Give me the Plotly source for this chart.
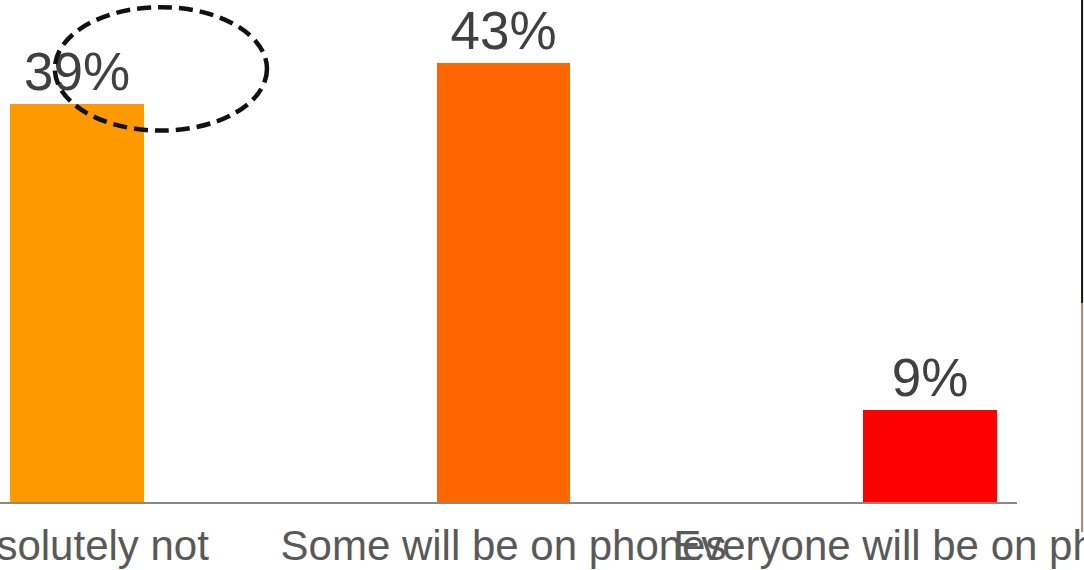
import plotly.graph_objects as go

# Survey answers and their shares (%)
categories = ["Absolutely not", "Some will be on phones", "Everyone will be on phones"]
shares = [39, 43, 9]
bar_colors = ["#FF9900", "#FF6600", "#FF0000"]

fig = go.Figure(
    go.Bar(
        x=list(range(len(categories))),
        y=shares,
        width=0.314,
        marker=dict(color=bar_colors, line=dict(width=0)),
        text=[f"{v}%" for v in shares],
        textposition="outside",
        cliponaxis=False,
        textfont=dict(family="Liberation Sans, Arial, sans-serif", size=53, color="#404040"),
    )
)

# Dashed ellipse highlighting the first answer's label
fig.add_shape(
    type="circle",
    xref="x", yref="y",
    x0=-0.052, x1=0.4455, y0=36.4, y1=48.5,
    line=dict(color="#111111", width=4.5, dash="14px,7px"),
)

# Thin dark edge on the far right
fig.add_shape(type="line", xref="paper", yref="paper",
              x0=1.064, x1=1.064, y0=1.0, y1=0.396,
              line=dict(color="#111111", width=2))
fig.add_shape(type="line", xref="paper", yref="paper",
              x0=1.064, x1=1.064, y0=0.396, y1=-0.06,
              line=dict(color="#C08060", width=2))

fig.update_layout(
    width=1084, height=570,
    margin=dict(l=0, r=67, t=0, b=68, autoexpand=False),
    paper_bgcolor="white", plot_bgcolor="white",
    showlegend=False,
    bargap=0,
    xaxis=dict(
        range=[-0.1805, 2.204],
        tickmode="array",
        tickvals=list(range(len(categories))),
        ticktext=categories,
        tickangle=0,
        automargin=False,
        ticklabeloverflow="allow",
        ticklabelstandoff=6,
        showline=True, linecolor="#898989", linewidth=2,
        showgrid=False, zeroline=False, ticks="",
        tickfont=dict(family="Liberation Sans, Arial, sans-serif", size=42, color="#595959"),
    ),
    yaxis=dict(range=[0, 49.2], visible=False, showgrid=False, zeroline=False),
)

fig.write_html("out.html")
